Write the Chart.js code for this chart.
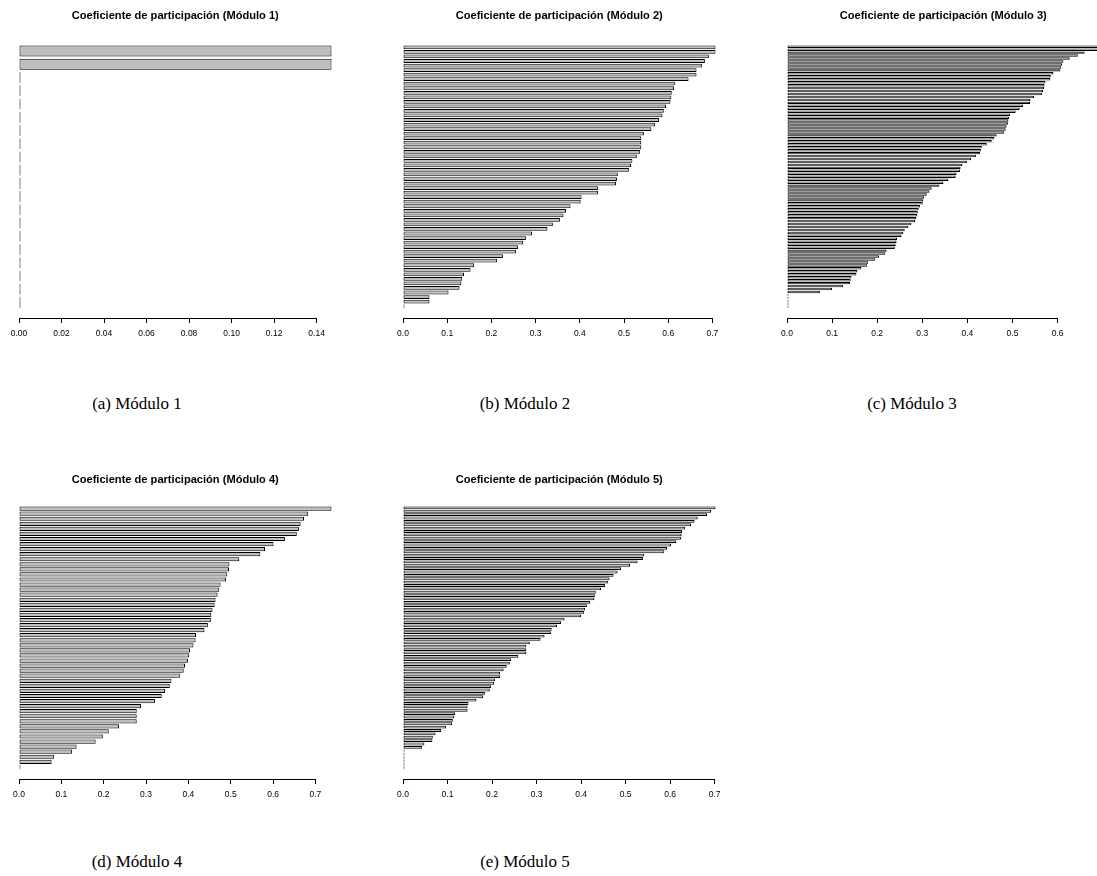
<!DOCTYPE html>
<html>
<head>
<meta charset="utf-8">
<script src="https://cdn.jsdelivr.net/npm/chart.js@4.4.0/dist/chart.umd.min.js"></script>
<style>
    html, body { margin: 0; padding: 0; background: #fff; }
    #fig { position: relative; width: 1097px; height: 876px; overflow: hidden; }
    .panel { position: absolute; }
    .ttl {
        position: absolute;
        font-family: "Liberation Sans", Arial, sans-serif;
        font-weight: bold;
        font-size: 11.1px;
        line-height: 14px;
        color: #000;
        white-space: nowrap;
        transform: translateX(-50%);
    }
    .cap {
        position: absolute;
        font-family: "Liberation Serif", serif;
        font-size: 17px;
        line-height: 20px;
        color: #000;
        white-space: nowrap;
        transform: translateX(-50%);
    }
</style>
</head>
<body>
<div id="fig"></div>
<script>
// values of each module, top bar first (largest), zeros at the bottom
var modulo1 = [0.147, 0.147, 0, 0, 0, 0, 0, 0, 0, 0, 0, 0, 0, 0, 0, 0, 0, 0, 0, 0];

var modulo2 = [0.707, 0.707, 0.692, 0.683, 0.677, 0.664, 0.664, 0.646, 0.615, 0.613,
    0.608, 0.607, 0.605, 0.595, 0.590, 0.587, 0.579, 0.570, 0.562, 0.545,
    0.539, 0.539, 0.539, 0.536, 0.529, 0.519, 0.516, 0.511, 0.486, 0.484,
    0.482, 0.441, 0.441, 0.404, 0.402, 0.379, 0.369, 0.363, 0.355, 0.339,
    0.327, 0.292, 0.278, 0.272, 0.260, 0.256, 0.226, 0.213, 0.161, 0.153,
    0.138, 0.134, 0.132, 0.128, 0.103, 0.060, 0.060, 0];

var modulo3 = [0.693, 0.690, 0.660, 0.645, 0.627, 0.613, 0.610, 0.608, 0.606, 0.591,
    0.585, 0.584, 0.573, 0.571, 0.570, 0.568, 0.566, 0.548, 0.539, 0.539,
    0.524, 0.516, 0.507, 0.495, 0.493, 0.491, 0.490, 0.487, 0.485, 0.482,
    0.465, 0.460, 0.454, 0.443, 0.432, 0.430, 0.428, 0.419, 0.408, 0.399,
    0.389, 0.385, 0.384, 0.376, 0.374, 0.358, 0.347, 0.338, 0.321, 0.316,
    0.310, 0.304, 0.302, 0.301, 0.295, 0.292, 0.290, 0.289, 0.287, 0.284,
    0.276, 0.269, 0.261, 0.258, 0.254, 0.244, 0.243, 0.241, 0.239, 0.221,
    0.218, 0.204, 0.196, 0.180, 0.178, 0.165, 0.156, 0.154, 0.143, 0.141,
    0.140, 0.124, 0.100, 0.073, 0, 0, 0, 0, 0];

var modulo4 = [0.738, 0.683, 0.673, 0.665, 0.661, 0.656, 0.628, 0.601, 0.581, 0.570,
    0.520, 0.497, 0.496, 0.492, 0.489, 0.476, 0.473, 0.469, 0.464, 0.462,
    0.457, 0.454, 0.453, 0.446, 0.438, 0.418, 0.417, 0.412, 0.404, 0.402,
    0.399, 0.392, 0.389, 0.381, 0.360, 0.356, 0.345, 0.337, 0.321, 0.288,
    0.278, 0.278, 0.278, 0.236, 0.212, 0.198, 0.181, 0.136, 0.125, 0.083,
    0.077, 0];

var modulo5 = [0.702, 0.692, 0.683, 0.662, 0.655, 0.647, 0.634, 0.627, 0.626, 0.625,
    0.614, 0.602, 0.593, 0.587, 0.542, 0.539, 0.527, 0.510, 0.490, 0.482,
    0.473, 0.464, 0.461, 0.454, 0.445, 0.433, 0.431, 0.430, 0.420, 0.413,
    0.409, 0.407, 0.400, 0.363, 0.355, 0.346, 0.334, 0.333, 0.318, 0.309,
    0.285, 0.277, 0.277, 0.277, 0.259, 0.243, 0.240, 0.233, 0.226, 0.218,
    0.218, 0.207, 0.205, 0.198, 0.195, 0.184, 0.180, 0.165, 0.147, 0.145,
    0.145, 0.117, 0.115, 0.112, 0.110, 0.097, 0.086, 0.073, 0.067, 0.066,
    0.048, 0.043, 0, 0, 0, 0, 0, 0];

// x axis ticks of each panel
var ticks1 = [0, 0.02, 0.04, 0.06, 0.08, 0.10, 0.12, 0.14];
var ticks2 = [0, 0.1, 0.2, 0.3, 0.4, 0.5, 0.6, 0.7];
var ticks3 = [0, 0.1, 0.2, 0.3, 0.4, 0.5, 0.6];
var ticks4 = [0, 0.1, 0.2, 0.3, 0.4, 0.5, 0.6, 0.7];
var ticks5 = [0, 0.1, 0.2, 0.3, 0.4, 0.5, 0.6, 0.7];

var titles = ['Coeficiente de participación (Módulo 1)', 'Coeficiente de participación (Módulo 2)',
    'Coeficiente de participación (Módulo 3)', 'Coeficiente de participación (Módulo 4)',
    'Coeficiente de participación (Módulo 5)'];
var captions = ['(a) Módulo 1', '(b) Módulo 2', '(c) Módulo 3', '(d) Módulo 4', '(e) Módulo 5'];

var fig = document.getElementById('fig');

function addText(cls, text, x, y) {
    var d = document.createElement('div');
    d.className = cls;
    d.textContent = text;
    d.style.left = x + 'px';
    d.style.top = y + 'px';
    fig.appendChild(d);
}

function drawPanel(title, values, ticks, decimals, left, top, titleY) {
    var canvasW = 351, canvasH = 345;
    var plotW = 337.5;          // width of the R plot region
    var zeroX = 19;             // pixel of value 0 inside the canvas

    var holder = document.createElement('div');
    holder.className = 'panel';
    holder.style.left = left + 'px';
    holder.style.top = top + 'px';
    var canvas = document.createElement('canvas');
    canvas.width = canvasW;
    canvas.height = canvasH;
    holder.appendChild(canvas);
    fig.appendChild(holder);

    // title centred over the plot region
    addText('ttl', title, left + zeroX - 0.04 / 1.08 * plotW + plotW / 2, titleY - 7);

    var n = values.length;
    var ppu = plotW / (1.08 * Math.max.apply(null, values));
    var axisMax = ticks[ticks.length - 1];
    var padRight = canvasW - zeroX - axisMax * ppu;
    var half = 1 / 2.4;          // half a bar, in bar pitches
    var pad = 0.04 * (n - 1 + 2 * half);

    var points = [];
    for (var i = 0; i < n; i++) {
        points.push({ x: values[i], y: i });
    }

    new Chart(canvas.getContext('2d'), {
        type: 'bar',
        data: {
            datasets: [{
                data: points,
                backgroundColor: '#bebebe',
                borderColor: '#000',
                borderWidth: 1,
                borderSkipped: false,
                barPercentage: 1 / 1.2,
                categoryPercentage: 1,
                minBarLength: 1.5,
                clip: false
            }]
        },
        options: {
            indexAxis: 'y',
            responsive: false,
            animation: false,
            layout: { padding: { left: zeroX, right: padRight, top: 35, bottom: 6.5 } },
            plugins: {
                legend: { display: false },
                tooltip: { enabled: false },
                title: { display: false }
            },
            scales: {
                x: {
                    type: 'linear',
                    min: 0,
                    max: axisMax,
                    afterBuildTicks: function (s) {
                        s.ticks = ticks.map(function (v) { return { value: v }; });
                    },
                    afterFit: function (s) { s.height = 20; },
                    grid: { drawOnChartArea: false, drawTicks: true, tickLength: 4.5, color: '#000', lineWidth: 1 },
                    border: { display: true, color: '#000', width: 1 },
                    ticks: {
                        padding: 6,
                        color: '#000',
                        autoSkip: false,
                        maxRotation: 0,
                        font: { family: 'Liberation Sans', size: 8.5 },
                        callback: function (v) { return Number(v).toFixed(decimals); }
                    }
                },
                y: {
                    type: 'linear',
                    display: false,
                    offset: false,
                    reverse: true,
                    min: -half - pad,
                    max: n - 1 + half + pad,
                    ticks: { maxTicksLimit: 2 }
                }
            }
        }
    });
}

drawPanel(titles[0], modulo1, ticks1, 2, 0, 0, 15);
drawPanel(titles[1], modulo2, ticks2, 1, 384, 0, 15);
drawPanel(titles[2], modulo3, ticks3, 1, 768, 0, 15);
drawPanel(titles[3], modulo4, ticks4, 1, 0, 461, 479);
drawPanel(titles[4], modulo5, ticks5, 1, 384, 461, 479);

// sub-figure captions
var capPos = [[137, 394], [525, 394], [912, 394], [137, 852], [525, 852]];
for (var k = 0; k < captions.length; k++) {
    addText('cap', captions[k], capPos[k][0], capPos[k][1]);
}
</script>
</body>
</html>
